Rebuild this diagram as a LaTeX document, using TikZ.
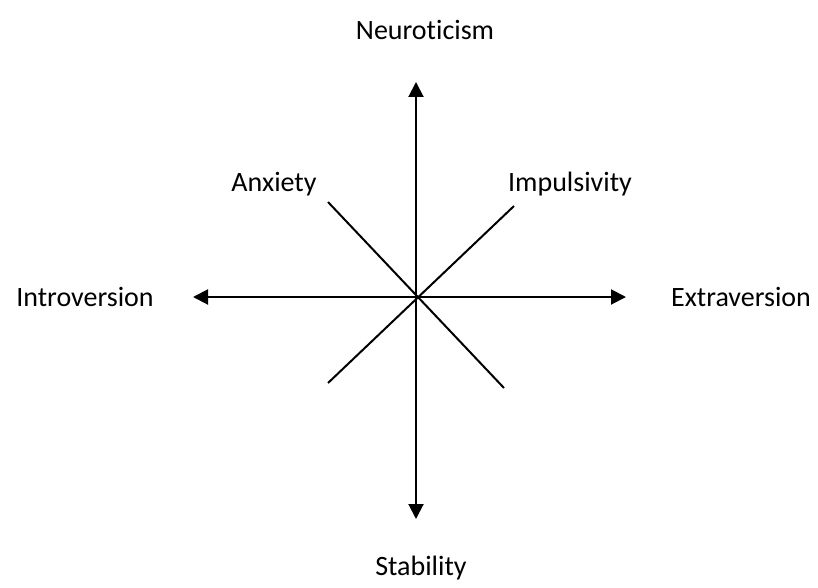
\documentclass[tikz,border=0pt]{standalone}
\usepackage{fontspec}
\setmainfont{Carlito}[Ligatures=NoCommon]
\usetikzlibrary{arrows.meta}

\begin{document}
\begin{tikzpicture}[>={Triangle[length=15pt, width=15pt]}, x=1pt, y=-1pt, every node/.style={font=\fontsize{28}{32}\selectfont}, line cap=butt, line join=miter]
    \path[use as bounding box] (0,0) rectangle (818,588);
    \coordinate (O) at (416,297);
    \coordinate (N) at (416,82);
    \coordinate (S) at (416,519);
    \coordinate (W) at (193,297);
    \coordinate (E) at (626,297);
    \coordinate (A1) at (328,202);
    \coordinate (A2) at (504,388);
    \coordinate (I1) at (328,383);
    \coordinate (I2) at (514,206);
    \draw[->, line width=2pt] (O) -- (N);
    \draw[->, line width=2pt] (O) -- (S);
    \draw[->, line width=2pt] (O) -- (W);
    \draw[->, line width=2pt] (O) -- (E);
    \draw[line width=2pt] (A1) -- (A2);
    \draw[line width=2pt] (I1) -- (I2);
    \node (neuro) at (425,30) {Neuroticism};
    \node (stab) at (421,568) {Stability};
    \node (intro) at (85,297) {Introversion};
    \node (extra) at (741,297) {Extraversion};
    \node (anx) at (274,184) {Anxiety};
    \node (impul) at (570,184) {Impulsivity};
\end{tikzpicture}
\end{document}
